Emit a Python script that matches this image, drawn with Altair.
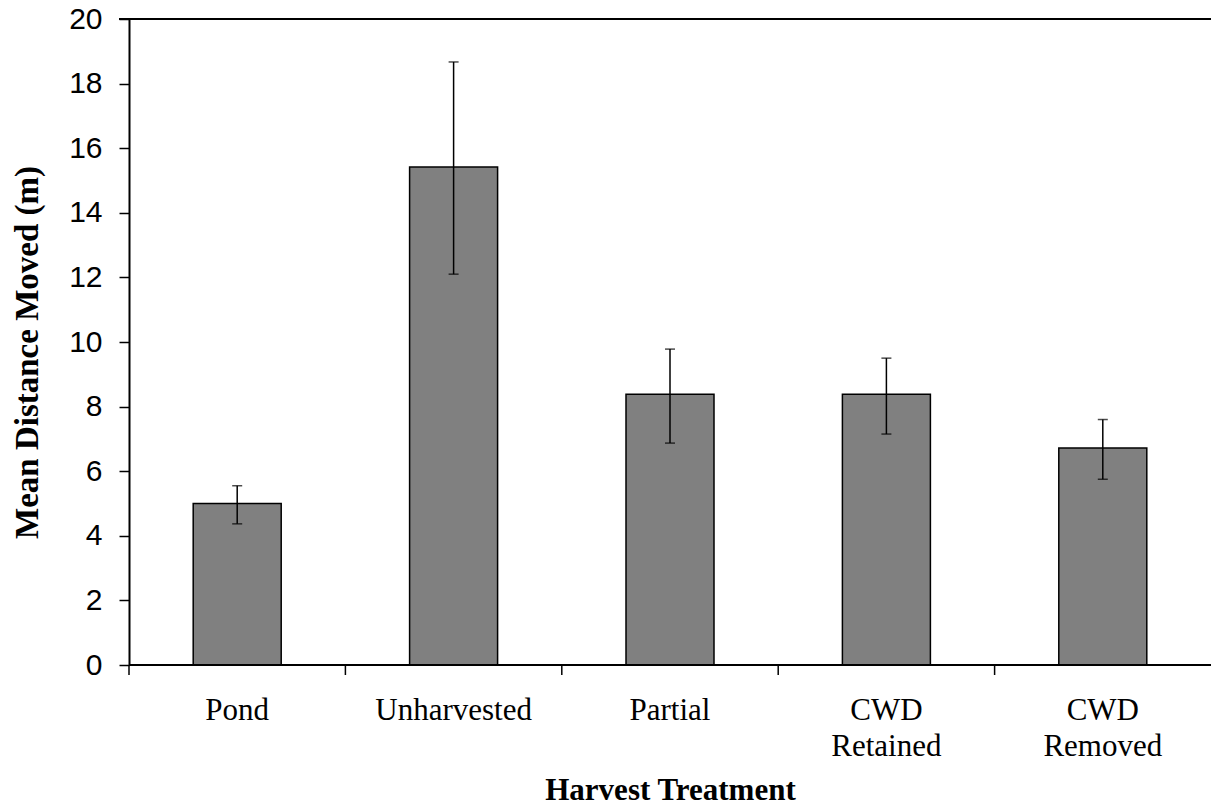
import altair as alt
import pandas as pd

treatments = ["Pond", "Unharvested", "Partial", "CWD Retained", "CWD Removed"]
means = [5.0, 15.42, 8.38, 8.38, 6.72]
err_low = [4.37, 12.1, 6.87, 7.15, 5.75]
err_high = [5.55, 18.67, 9.78, 9.5, 7.6]

df = pd.DataFrame({"t": treatments, "m": means, "lo": err_low, "hi": err_high})

W, H = 1082, 646
xenc = alt.X("t:N", sort=treatments, scale=alt.Scale(paddingInner=0, paddingOuter=0),
             axis=alt.Axis(title="Harvest Treatment", ticks=False, tickSize=0, domain=False,
                           labelAngle=0, labelFont="Liberation Serif", labelFontSize=31,
                           labelColor="black", labelPadding=30, labelBaseline="top",
                           labelLineHeight=36, labelExpr="split(datum.label, ' ')",
                           titleFont="Liberation Serif", titleFontSize=31, titleFontWeight="bold",
                           titleColor="black", titleY=134, titleBaseline="alphabetic"))
yscale = alt.Scale(domain=[0, 20], nice=False)
yaxis = alt.Axis(title="Mean Distance Moved (m)", values=list(range(0, 21, 2)), grid=False,
                 tickSize=10, tickColor="black", tickWidth=1.5, domainColor="black", domainWidth=2,
                 labelFont="Liberation Sans", labelFontSize=30, labelColor="black", labelPadding=17,
                 titleFont="Liberation Serif", titleFontSize=33, titleFontWeight="bold",
                 titleColor="black", titleX=-102, titleY=333, titleAngle=270,
                 titleAlign="center", titleBaseline="middle")

base = alt.Chart(df)
bars = base.mark_bar(color="#808080", stroke="black", strokeWidth=1.5, width=88).encode(
    x=xenc, y=alt.Y("m:Q", scale=yscale, axis=yaxis))
err = base.mark_rule(color="black", strokeWidth=1.5).encode(
    x=alt.X("t:N", sort=treatments), y="lo:Q", y2="hi:Q")
cap_lo = base.mark_tick(color="black", thickness=1.5, size=10, orient="horizontal").encode(
    x=alt.X("t:N", sort=treatments), y="lo:Q")
cap_hi = base.mark_tick(color="black", thickness=1.5, size=10, orient="horizontal").encode(
    x=alt.X("t:N", sort=treatments), y="hi:Q")
xticks = base.mark_rule(color="black", strokeWidth=1.5).encode(
    x=alt.X("t:N", sort=treatments, bandPosition=0), y=alt.value(H), y2=alt.value(H + 10))
xaxis_line = base.mark_rule(color="black", strokeWidth=2).encode(
    x=alt.value(0), x2=alt.value(W), y=alt.value(H))
topline = base.mark_rule(color="black", strokeWidth=2).encode(
    x=alt.value(-10), x2=alt.value(W), y=alt.value(0))

chart = alt.layer(bars, err, cap_lo, cap_hi, xticks, xaxis_line, topline).properties(
    width=W, height=H,
    autosize=alt.AutoSizeParams(type="none"),
    padding={"left": 129, "top": 19, "right": 0, "bottom": 143},
).configure_view(stroke=None).configure(background="white")

chart.save("out.html", embed_options={"renderer": "svg", "actions": False})
